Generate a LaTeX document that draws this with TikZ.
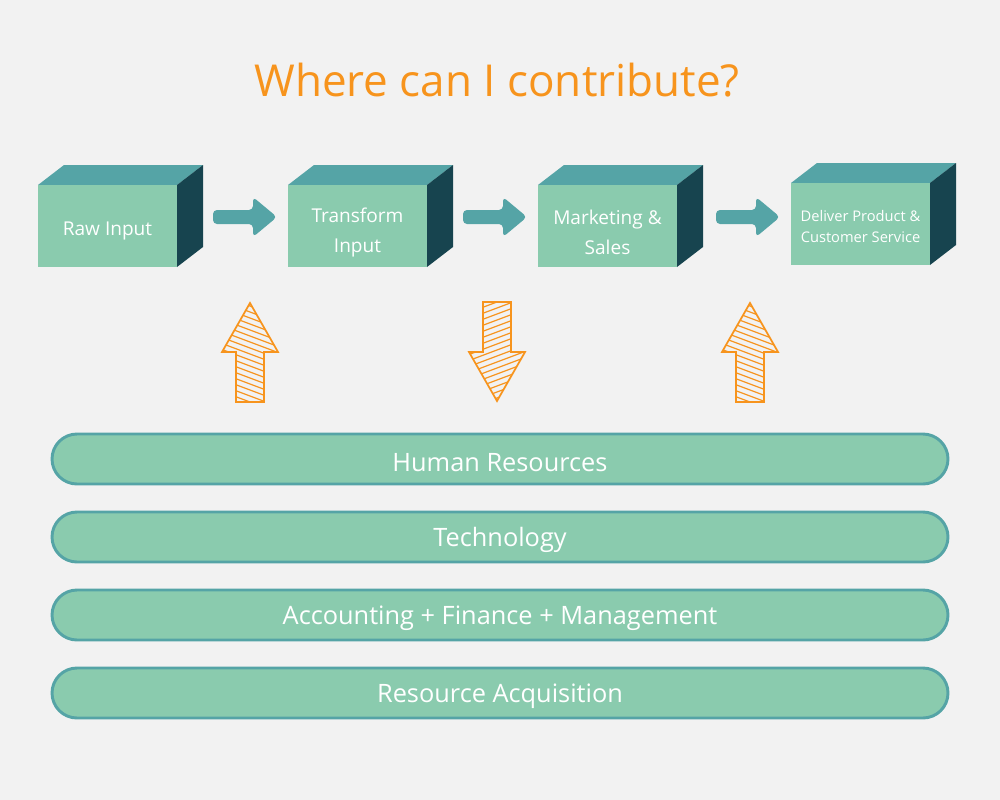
\documentclass[tikz,border=0pt]{standalone}
\usepackage{fontspec}
\setmainfont{Open Sans}
\begin{document}
\begin{tikzpicture}[x=0.75pt,y=-0.75pt,
  btxt/.style={text=white,align=center,font=\fontsize{14.3}{22}\selectfont},
  bar/.style={draw=topc,line width=2.2pt,fill=frontc,rounded corners=25*0.75pt,minimum width=896*0.75pt,minimum height=50*0.75pt,inner sep=0pt},
  bartxt/.style={text=white,font=\fontsize{19}{22}\selectfont,yshift=-2.5pt},
  hatch/.style={draw=orangec,line width=1.3pt}]
\definecolor{frontc}{HTML}{8ACBAE}
\definecolor{topc}{HTML}{55A4A6}
\definecolor{sidec}{HTML}{17444F}
\definecolor{orangec}{HTML}{F7941D}
\definecolor{bg}{HTML}{F2F2F2}
\fill[bg] (0,0) rectangle (1000,800);
\useasboundingbox (0,0) rectangle (1000,800);
\node[text=orangec,font=\fontsize{33}{40}\selectfont] (title) at (497,80) {Where can I contribute?};
% boxes
\foreach \x/\y/\n in {38/185/b1,288/185/b2,538/185/b3,791/183/b4}{
  \fill[topc] (\x,\y) -- ++(26,-20) -- ++(139,0) -- ++(-26,20) -- cycle;
  \fill[sidec] (\x+139,\y) -- ++(26,-20) -- ++(0,82) -- ++(-26,20) -- cycle;
  \fill[frontc] (\x,\y) rectangle ++(139,82);
  \coordinate (\n) at (\x+69.5,\y+46);
}
\node[btxt] (t1) at (b1) {Raw Input};
\node[btxt] (t2) at ([yshift=-1pt]b2) {Transform\\Input};
\node[btxt] (t3) at ([yshift=-1pt]b3) {Marketing \&\\Sales};
\node[btxt,font=\fontsize{11}{16}\selectfont] (t4) at ([yshift=2pt]b4) {Deliver Product \&\\Customer Service};
% small arrows
\foreach \x in {213,463,716}{
  \fill[topc,rounded corners=3pt] (\x,210) -- (\x+40,210) -- (\x+40,197) -- (\x+64,217) -- (\x+40,237) -- (\x+40,224) -- (\x,224) -- cycle;
}
% hatched arrows
\foreach \x/\d in {250/1,750/1,497/-1}{
  \begin{scope}[shift={(\x,352)},yscale=\d]
    \path[clip] (0,-49) -- (28,0) -- (14,0) -- (14,50) -- (-14,50) -- (-14,0) -- (-28,0) -- cycle;
    \foreach \k in {-18,...,18}{
      \draw[orangec,line width=0.9pt] (-40,\k*6-25) -- (40,\k*6+5);
    }
  \end{scope}
  \draw[hatch,shift={(\x,352)},yscale=\d,line join=miter] (0,-49) -- (28,0) -- (14,0) -- (14,50) -- (-14,50) -- (-14,0) -- (-28,0) -- cycle;
}
% bars
\node[bar] (hr) at (500,459) {};
\node[bar] (tech) at (500,537) {};
\node[bar] (acc) at (500,615) {};
\node[bar] (ra) at (500,693) {};
\node[bartxt] (hrt) at (hr) {Human Resources};
\node[bartxt] (techt) at (tech) {Technology};
\node[bartxt] (acct) at (acc) {Accounting + Finance + Management};
\node[bartxt] (rat) at (ra) {Resource Acquisition};
\end{tikzpicture}
\end{document}
